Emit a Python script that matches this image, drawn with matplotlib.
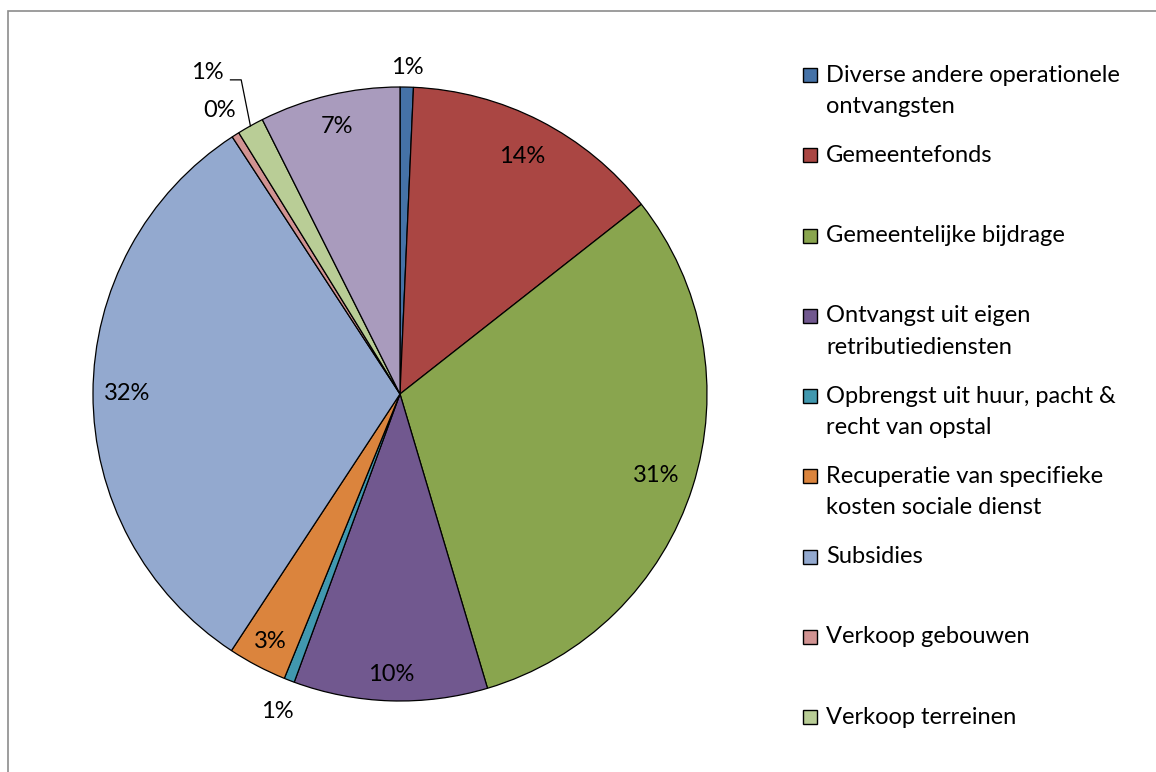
import numpy as np
import matplotlib
matplotlib.use("Agg")
import matplotlib.pyplot as plt
from matplotlib.patches import Rectangle

plt.rcParams['font.family'] = ['Lato', 'DejaVu Sans']

# data (aandeel in %), kloksgewijs vanaf 12 uur
categories = ["Diverse andere operationele\nontvangsten",
              "Gemeentefonds",
              "Gemeentelijke bijdrage",
              "Ontvangst uit eigen\nretributiediensten",
              "Opbrengst uit huur, pacht &\nrecht van opstal",
              "Recuperatie van specifieke\nkosten sociale dienst",
              "Subsidies",
              "Verkoop gebouwen",
              "Verkoop terreinen",
              "Overige"]          # legend entry cut off in the reference
values = [0.7, 13.7, 31.0, 10.2, 0.55, 3.1, 31.55, 0.4, 1.4, 7.4]
n_legend = 9

colors = ["#4572A7", "#AA4643", "#89A54E", "#71588F", "#4198AF",
          "#DB843D", "#93A9CF", "#D19392", "#B9CD96", "#A99BBD"]
# label distance factor per slice (None -> leader line)
label_r = [1.065, 0.87, 0.875, 0.915, 1.11, 0.91, 0.89, 1.095, None, 0.895]

W, H = 1156, 772
fig = plt.figure(figsize=(W / 100, H / 100), dpi=100)

# chart border
fig.patches.append(Rectangle((8 / W, -0.1), 1.2, 1 - 11 / H + 0.1, transform=fig.transFigure,
                             fill=False, edgecolor="#8c8c8c", linewidth=1.2))

cx, cy, rad = 400, 394, 307
half = 330
ax = fig.add_axes([(cx - half) / W, (H - cy - half) / H, 2 * half / W, 2 * half / H])

wedges, _ = ax.pie(values, colors=colors, startangle=90, counterclock=False,
                   radius=1.0, wedgeprops=dict(edgecolor='black', linewidth=0.9))
lim = half / rad
ax.set_xlim(-lim, lim)
ax.set_ylim(-lim, lim)
ax.set_aspect('equal')
ax.axis('off')

total = sum(values)
fs = 17
for i, w in enumerate(wedges):
    pct = values[i] / total * 100
    txt = "%d%%" % int(np.floor(pct + 0.5))
    mid = np.deg2rad((w.theta1 + w.theta2) / 2)
    if label_r[i] is None:
        # leader line label
        px, py = np.cos(mid), np.sin(mid)
        tx, ty = px - 0.03, py + 0.15
        ax.plot([px, tx, tx - 0.035], [py, ty, ty], color='black', lw=0.9)
        ax.text(tx - 0.11, ty + 0.025, txt, ha='center', va='center', fontsize=fs)
    else:
        r = label_r[i]
        ax.text(r * np.cos(mid), r * np.sin(mid), txt, ha='center', va='center', fontsize=fs)

# legend
y0, dy, line_h = 75, 80.25, 31.5
for i in range(n_legend):
    y = y0 + i * dy
    fig.patches.append(Rectangle((803 / W, 1 - (y + 7) / H), 14 / W, 14 / H,
                                 transform=fig.transFigure, facecolor=colors[i],
                                 edgecolor='black', linewidth=1.0))
    for k, line in enumerate(categories[i].split("\n")):
        fig.text(826 / W, 1 - (y + k * line_h) / H, line, ha='left', va='center', fontsize=fs)

fig.savefig("out.png", dpi=100, facecolor='white')
